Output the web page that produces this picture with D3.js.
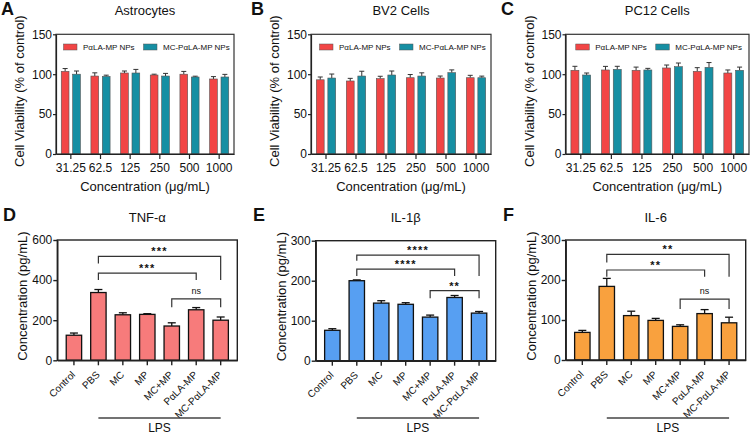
<!DOCTYPE html>
<html><head><meta charset="utf-8">
<script src="https://cdn.jsdelivr.net/npm/d3@7"></script>
<style>
body{margin:0;background:#fff}
svg{display:block}
text{font-family:"Liberation Sans",Arial,Helvetica,sans-serif;fill:#111}
</style>
</head><body>
<svg id="chart" width="753" height="434"></svg>
<script>
// ---------------- DATA ----------------
const concentrations = ["31.25","62.5","125","250","500","1000"];
const seriesNames = ["PαLA-MP NPs","MC-PαLA-MP NPs"];
const viabilityTicks = [0,50,100,150];

const astroPala    = [103.6, 97.7, 101.5, 99.0, 100.0, 94.0];
const astroPalaErr = [3.5, 4.0, 2.5, 1.0, 3.5, 3.0];
const astroMc      = [100.0, 97.3, 101.5, 97.7, 96.5, 96.5];
const astroMcErr   = [4.0, 1.5, 4.5, 3.3, 1.0, 3.3];

const bv2Pala      = [93.0, 91.5, 94.4, 95.6, 95.2, 95.6];
const bv2PalaErr   = [3.5, 3.3, 3.0, 4.0, 2.5, 3.0];
const bv2Mc        = [95.2, 97.7, 99.0, 97.7, 101.9, 95.6];
const bv2McErr     = [5.0, 6.0, 5.0, 4.0, 3.5, 2.0];

const pc12Pala     = [104.9, 105.3, 104.9, 107.8, 103.6, 101.5];
const pc12PalaErr  = [5.0, 4.5, 4.0, 3.7, 4.6, 3.8];
const pc12Mc       = [99.0, 106.1, 105.3, 109.4, 108.6, 104.9];
const pc12McErr    = [2.5, 3.8, 2.0, 4.6, 6.0, 4.0];

const groups = ["Control","PBS","MC","MP","MC+MP","PαLA-MP","MC-PαLA-MP"];
const lpsGroups = ["PBS","MC-PαLA-MP"];

const tnfMean = [125, 338, 227, 229, 171, 252, 200];
const tnfErr  = [11, 15, 10, 3.5, 16, 11, 16];
const tnfTicks = [0,200,400,600];

const il1Mean = [76, 200, 144, 141, 109, 158, 119];
const il1Err  = [4, 2, 6, 4, 5, 5, 4];
const ilTicks = [0,100,200,300];

const il6Mean = [69, 184, 111, 99, 84, 116, 93];
const il6Err  = [5, 20, 11, 5, 4, 10, 14];

// significance brackets: [fromGroup, toGroup, level, leftEnd, rightEnd, label]
const tnfSig = [["PBS","MC-PαLA-MP",518,483,401,"***"],["PBS","PαLA-MP",435,401,401,"***"],["MC+MP","MC-PαLA-MP",306,265,265,"ns"]];
const il1Sig = [["PBS","MC-PαLA-MP",264,250,212,"****"],["PBS","PαLA-MP",229,212,212,"****"],["MC+MP","MC-PαLA-MP",175,156,156,"**"]];
const il6Sig = [["PBS","MC-PαLA-MP",264,244,208,"**"],["PBS","PαLA-MP",225,208,208,"**"],["MC+MP","MC-PαLA-MP",152,127.5,127.5,"ns"]];

// ---------------- DRAW ----------------
const svg = d3.select("#chart");
const FONT = '"Liberation Sans",Arial,sans-serif';
const topColors = ["#F24545","#168FA3"];

function styleAxis(g, w){
  g.select(".domain").attr("stroke","#222").attr("stroke-width",w);
  g.selectAll(".tick line").attr("stroke","#222").attr("stroke-width",w);
}

function topPanel(cfg){
  const g = svg.append("g");
  const x0 = d3.scaleBand().domain(concentrations).range([cfg.left,cfg.right]).padding(0);
  const half = x0.step()*0.323;
  const x1 = d3.scaleBand().domain(seriesNames).range([-half,half]).paddingInner(0.32);
  const y = d3.scaleLinear().domain([0,150]).range([cfg.bottom,cfg.top]);
  const series = [{name:seriesNames[0],vals:cfg.a,err:cfg.ae,color:topColors[0]},
                  {name:seriesNames[1],vals:cfg.b,err:cfg.be,color:topColors[1]}];
  series.forEach(s=>{
    const bars = g.append("g");
    concentrations.forEach((c,i)=>{
      const cx = x0(c)+x0.bandwidth()/2 + x1(s.name) + x1.bandwidth()/2;
      // error bar
      bars.append("line").attr("x1",cx).attr("x2",cx).attr("y1",y(s.vals[i])).attr("y2",y(s.vals[i]+s.err[i]))
        .attr("stroke","#333").attr("stroke-width",1);
      bars.append("line").attr("x1",cx-2.5).attr("x2",cx+2.5).attr("y1",y(s.vals[i]+s.err[i])).attr("y2",y(s.vals[i]+s.err[i]))
        .attr("stroke","#333").attr("stroke-width",1);
      bars.append("rect").attr("x",x0(c)+x0.bandwidth()/2 + x1(s.name)).attr("width",x1.bandwidth())
        .attr("y",y(s.vals[i])).attr("height",y(0)-y(s.vals[i]))
        .attr("fill",s.color).attr("stroke","#555").attr("stroke-width",0.6);
    });
  });
  // frame
  g.append("rect").attr("x",cfg.left).attr("y",cfg.top).attr("width",cfg.right-cfg.left).attr("height",cfg.bottom-cfg.top)
    .attr("fill","none").attr("stroke","#333").attr("stroke-width",1.2);
  const ya = g.append("g").attr("transform",`translate(${cfg.left},0)`)
    .call(d3.axisLeft(y).tickValues(viabilityTicks).tickSize(3).tickPadding(1).tickSizeOuter(0));
  styleAxis(ya,1.2);
  ya.selectAll("text").attr("font-size",12).attr("font-family",FONT).attr("fill","#111");
  const xa = g.append("g").attr("transform",`translate(0,${cfg.bottom})`)
    .call(d3.axisBottom(x0).tickSize(5).tickPadding(0).tickSizeOuter(0));
  styleAxis(xa,1.2);
  xa.selectAll("text").attr("font-size",12).attr("font-family",FONT).attr("fill","#111").attr("y",18).attr("dy",0);
  // legend
  const lg = g.append("g");
  const lx = (cfg.left+cfg.right)/2 - 83.5 + 2;
  const ly = cfg.top + 12.7;
  [[0,0],[1,80]].forEach(([k,off])=>{
    lg.append("rect").attr("x",lx+off).attr("y",ly-3).attr("width",13.5).attr("height",6)
      .attr("fill",topColors[k]).attr("stroke","#555").attr("stroke-width",0.5);
    lg.append("text").attr("x",lx+off+19.5).attr("y",ly+3).attr("font-size",8).text(seriesNames[k]);
  });
  // titles
  g.append("text").attr("x",(cfg.left+cfg.right)/2).attr("y",15).attr("text-anchor","middle").attr("font-size",13).text(cfg.title);
  g.append("text").attr("x",cfg.letterX).attr("y",14.5).attr("font-size",18).attr("font-weight","bold").text(cfg.letter);
  g.append("text").attr("transform",`translate(${cfg.left-32},${(cfg.top+cfg.bottom)/2-3}) rotate(-90)`)
    .attr("text-anchor","middle").attr("font-size",13).text("Cell Viability (% of control)");
  g.append("text").attr("x",(cfg.left+cfg.right)/2).attr("y",191).attr("text-anchor","middle").attr("font-size",13)
    .text("Concentration (μg/mL)");
}

function bottomPanel(cfg){
  const g = svg.append("g");
  const x = d3.scaleBand().domain(groups).range([cfg.left,cfg.right]).paddingInner(0.37).paddingOuter(0.365);
  const y = d3.scaleLinear().domain([0,cfg.max]).range([cfg.bottom,cfg.top]);
  const cx = k => x(k)+x.bandwidth()/2;
  groups.forEach((k,i)=>{
    const v = cfg.mean[i], e = cfg.err[i];
    g.append("line").attr("x1",cx(k)).attr("x2",cx(k)).attr("y1",y(v)).attr("y2",y(v+e)).attr("stroke","#111").attr("stroke-width",1.3);
    g.append("line").attr("x1",cx(k)-4).attr("x2",cx(k)+4).attr("y1",y(v+e)).attr("y2",y(v+e)).attr("stroke","#111").attr("stroke-width",1.3);
    g.append("rect").attr("x",x(k)).attr("width",x.bandwidth()).attr("y",y(v)).attr("height",y(0)-y(v))
      .attr("fill",cfg.color).attr("stroke","#111").attr("stroke-width",1.3);
  });
  g.append("rect").attr("x",cfg.left).attr("y",cfg.top).attr("width",cfg.right-cfg.left).attr("height",cfg.bottom-cfg.top)
    .attr("fill","none").attr("stroke","#222").attr("stroke-width",1.4);
  const ya = g.append("g").attr("transform",`translate(${cfg.left},0)`)
    .call(d3.axisLeft(y).tickValues(cfg.ticks).tickSize(4).tickPadding(1).tickSizeOuter(0));
  styleAxis(ya,1.4);
  ya.selectAll("text").attr("font-size",12).attr("font-family",FONT).attr("fill","#111");
  const xa = g.append("g").attr("transform",`translate(0,${cfg.bottom})`)
    .call(d3.axisBottom(x).tickSize(5).tickSizeOuter(0));
  styleAxis(xa,1.4);
  xa.selectAll("text").attr("font-size",10).attr("font-family",FONT).attr("fill","#111")
    .attr("x",0).attr("y",0).attr("dy",0).attr("text-anchor","end")
    .attr("transform","translate(2,15) rotate(-45)");
  // brackets
  cfg.sig.forEach(([a,b,lvl,le,re,lab])=>{
    g.append("path").attr("d",`M${cx(a)},${y(le)}V${y(lvl)}H${cx(b)}V${y(re)}`)
      .attr("fill","none").attr("stroke","#333").attr("stroke-width",1.2);
    const t = g.append("text").attr("x",(cx(a)+cx(b))/2).attr("text-anchor","middle").text(lab);
    if(lab==="ns") t.attr("y",y(lvl)-5).attr("font-size",9).attr("fill","#333");
    else t.attr("y",y(lvl)-1).attr("font-size",11).attr("font-weight","bold").attr("letter-spacing",1.2).attr("fill","#222");
  });
  // LPS
  g.append("line").attr("x1",cx(lpsGroups[0])).attr("x2",cx(lpsGroups[1])).attr("y1",418).attr("y2",418)
    .attr("stroke","#444").attr("stroke-width",1.4);
  g.append("text").attr("x",(cx(lpsGroups[0])+cx(lpsGroups[1]))/2).attr("y",432).attr("text-anchor","middle").attr("font-size",12).text("LPS");
  g.append("text").attr("x",(cfg.left+cfg.right)/2).attr("y",221.5).attr("text-anchor","middle").attr("font-size",13).text(cfg.title);
  g.append("text").attr("x",cfg.letterX).attr("y",221).attr("font-size",18).attr("font-weight","bold").text(cfg.letter);
  g.append("text").attr("transform",`translate(${cfg.left-30},${(cfg.top+cfg.bottom)/2-4}) rotate(-90)`)
    .attr("text-anchor","middle").attr("font-size",13).text("Concentration (pg/mL)");
}

topPanel({left:56,right:234,top:34.3,bottom:154,a:astroPala,ae:astroPalaErr,b:astroMc,be:astroMcErr,title:"Astrocytes",letter:"A",letterX:1});
topPanel({left:311,right:491,top:34.3,bottom:154,a:bv2Pala,ae:bv2PalaErr,b:bv2Mc,be:bv2McErr,title:"BV2 Cells",letter:"B",letterX:251});
topPanel({left:565.5,right:749,top:34.3,bottom:154,a:pc12Pala,ae:pc12PalaErr,b:pc12Mc,be:pc12McErr,title:"PC12 Cells",letter:"C",letterX:501});

bottomPanel({left:57.3,right:237.3,top:240,bottom:360.3,max:600,ticks:tnfTicks,mean:tnfMean,err:tnfErr,sig:tnfSig,color:"#F77B7B",title:"TNF-α",letter:"D",letterX:3});
bottomPanel({left:315.7,right:495.7,top:240.7,bottom:360.7,max:300,ticks:ilTicks,mean:il1Mean,err:il1Err,sig:il1Sig,color:"#579FF2",title:"IL-1β",letter:"E",letterX:253});
bottomPanel({left:565.7,right:745.7,top:240,bottom:360,max:300,ticks:ilTicks,mean:il6Mean,err:il6Err,sig:il6Sig,color:"#F9A13E",title:"IL-6",letter:"F",letterX:503});
</script>
</body></html>
